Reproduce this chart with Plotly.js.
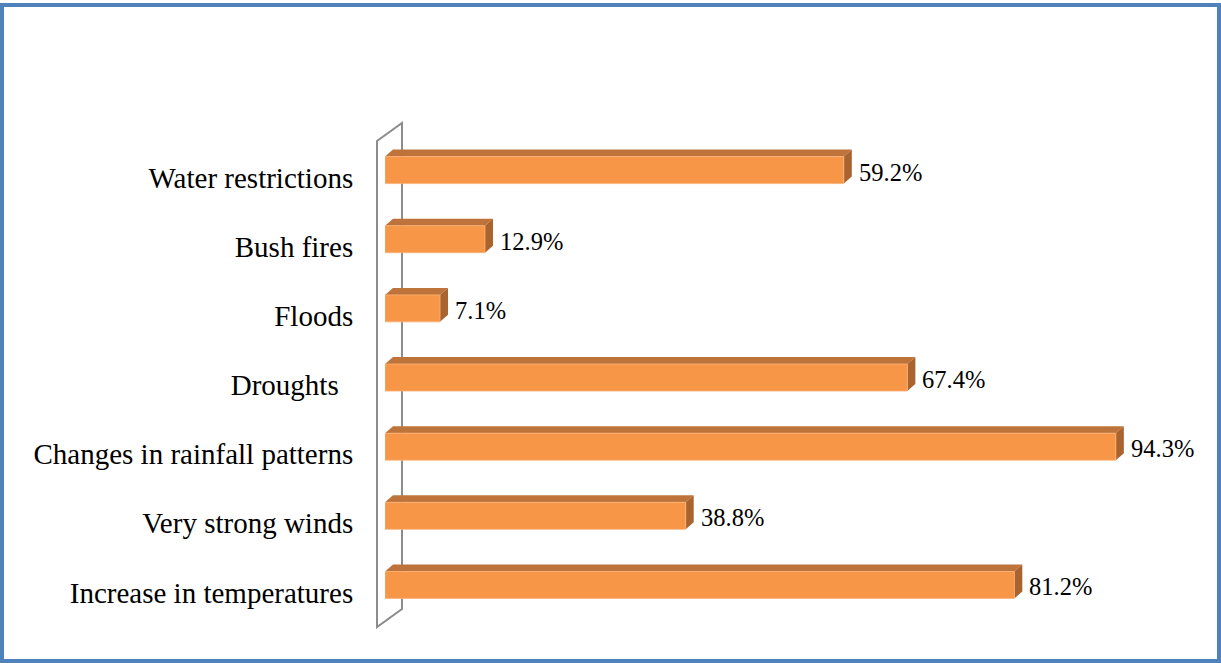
<!DOCTYPE html>
<html>
<head>
<meta charset="utf-8">
<script src="https://cdn.plot.ly/plotly-3.0.1.min.js"></script>
<style>
  html, body { margin: 0; padding: 0; background: #ffffff; }
  #frame { position: absolute; left: 0; top: 3px; width: 1221px; height: 660px;
           box-sizing: border-box; border: 4px solid #4F81BD; pointer-events: none; z-index: 5; }
  #chart { position: absolute; left: 0; top: 0; width: 1221px; height: 663px; }
</style>
</head>
<body>
<div id="chart"></div>
<div id="frame"></div>
<script>
// Data (bottom to top)
const categories = ['Increase in temperatures', 'Very strong winds', 'Changes in rainfall patterns',
                    'Droughts\u00a0\u00a0', 'Floods', 'Bush fires', 'Water restrictions'];
const values = [81.2, 38.8, 94.3, 67.4, 7.1, 12.9, 59.2];
const valueLabels = ['81.2%', '38.8%', '94.3%', '67.4%', '7.1%', '12.9%', '59.2%'];

// Layout geometry
const W = 1221, H = 663;
const M = { l: 385, r: 61, t: 143, b: 36 };
const xRange = [0, 100];
const yRange = [-0.5, categories.length - 0.5];
const plotW = W - M.l - M.r, plotH = H - M.t - M.b;
const pxPerX = plotW / (xRange[1] - xRange[0]);
const pxPerY = plotH / (yRange[1] - yRange[0]);

// 3D depth in pixels converted to data units
const depthDX = 8 / pxPerX;
const depthDY = 7 / pxPerY;
const barWidth = 0.39;
const barOffset = -0.087;

const FONT = 'Liberation Serif, Times New Roman, serif';
const idx = categories.map((c, i) => i);

const front = {
  type: 'bar', orientation: 'h',
  x: values, y: idx,
  width: barWidth, offset: barOffset,
  marker: { color: '#F79646', line: { width: 0.8, color: '#FBB37A' } },
  hoverinfo: 'skip'
};

const shapes = [];
// Back wall (decoration, paper coordinates)
const px2paperX = p => (p - M.l) / plotW;
const py2paperY = p => (H - M.b - p) / plotH;
shapes.push({
  type: 'path', xref: 'paper', yref: 'paper', layer: 'below',
  path: `M ${px2paperX(377)},${py2paperY(627)} L ${px2paperX(377)},${py2paperY(141)} ` +
        `L ${px2paperX(402)},${py2paperY(123)} L ${px2paperX(402)},${py2paperY(609)} Z`,
  line: { color: '#8C8C8C', width: 2 }, fillcolor: 'rgba(0,0,0,0)'
});
values.forEach((v, i) => {
  const b = i + barOffset, t = b + barWidth;
  // top face
  shapes.push({
    type: 'path', xref: 'x', yref: 'y', layer: 'below',
    path: `M 0,${t} L ${depthDX},${t + depthDY} L ${v + depthDX},${t + depthDY} L ${v},${t} Z`,
    fillcolor: '#BE733A', line: { width: 0 }
  });
  // side face
  shapes.push({
    type: 'path', xref: 'x', yref: 'y', layer: 'below',
    path: `M ${v},${b} L ${v},${t} L ${v + depthDX},${t + depthDY} L ${v + depthDX},${b + depthDY} Z`,
    fillcolor: '#A9632E', line: { width: 0 }
  });
});

const annotations = values.map((v, i) => ({
  x: v, y: i + barOffset + barWidth / 2, xref: 'x', yref: 'y',
  text: valueLabels[i], showarrow: false, xanchor: 'left', yanchor: 'middle',
  xshift: 13, yshift: -2,
  font: { family: FONT, size: 24.5, color: '#000000' }
}));

const layout = {
  width: W, height: H,
  margin: M,
  paper_bgcolor: '#ffffff',
  plot_bgcolor: 'rgba(0,0,0,0)',
  showlegend: false,
  bargap: 0,
  font: { family: FONT, color: '#000000' },
  xaxis: { range: xRange, visible: false, fixedrange: true },
  yaxis: {
    range: yRange, tickmode: 'array', tickvals: idx, ticktext: categories,
    showgrid: false, zeroline: false, showline: false,
    ticks: 'outside', ticklen: 25, tickcolor: 'rgba(0,0,0,0)',
    tickfont: { family: FONT, size: 29, color: '#000000' },
    fixedrange: true
  },
  shapes: shapes,
  annotations: annotations
};

Plotly.newPlot('chart', [front], layout, { displayModeBar: false, staticPlot: true });
</script>
</body>
</html>
